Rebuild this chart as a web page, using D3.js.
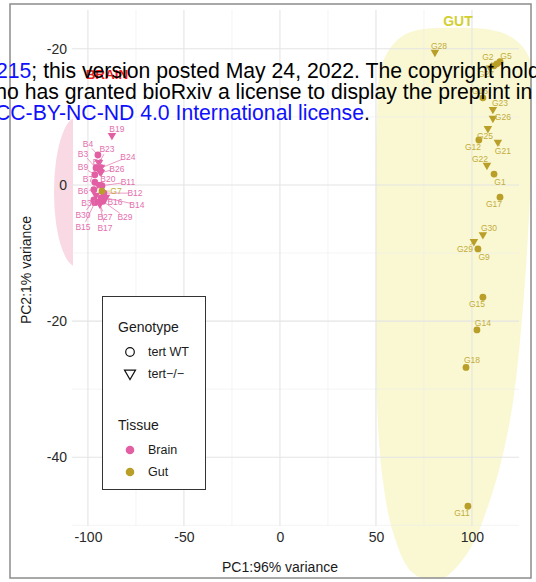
<!DOCTYPE html>
<html><head><meta charset="utf-8">
<script src="https://cdn.jsdelivr.net/npm/d3@7"></script>
<style>body{margin:0;background:#fff}svg{display:block;font-family:"Liberation Sans",Arial,sans-serif}</style>
</head><body><svg id="c" width="536" height="582"></svg>
<script>
// ---- data ----
const sampleIds   = ["B19","B4","B23","B3","B2","B24","B9","B26","B7","B20","B11","B6","B12","B31","B16","B14","B30","B27","B29","B15","B17",
                     "G7","G28","G2","G5","G3","G27","G16","G23","G26","G25","G12","G21","G22","G1","G17","G30","G29","G9","G15","G14","G18","G11"];
const tissue      = ["Brain","Brain","Brain","Brain","Brain","Brain","Brain","Brain","Brain","Brain","Brain","Brain","Brain","Brain","Brain","Brain","Brain","Brain","Brain","Brain","Brain",
                     "Gut","Gut","Gut","Gut","Gut","Gut","Gut","Gut","Gut","Gut","Gut","Gut","Gut","Gut","Gut","Gut","Gut","Gut","Gut","Gut","Gut","Gut"];
const genotype    = ["KO","WT","KO","WT","KO","KO","WT","KO","WT","KO","WT","WT","WT","KO","WT","KO","WT","KO","WT","WT","KO",
                     "WT","KO","WT","WT","WT","KO","WT","KO","KO","KO","WT","KO","KO","WT","WT","KO","KO","WT","WT","WT","WT","WT"];
const pc1         = [-87.5,-94.8,-94.3,-95.8,-93.8,-93.2,-96.4,-93.2,-96.4,-94.8,-92.7,-96.9,-91.7,-95.8,-93.2,-90.6,-96.9,-94.3,-92.2,-96.4,-93.8,
                     -92.7,80.7,111.5,114.6,113.0,109.4,105.7,110.9,110.9,108.3,103.6,113.5,107.8,111.5,114.6,105.7,101.0,103.1,105.7,102.6,96.9,97.9];
const pc2         = [7.2,4.4,3.2,2.5,1.9,2.5,1.5,1.8,0.4,0.0,-0.1,-0.7,-1.2,-1.6,-1.9,-1.9,-2.2,-2.5,-2.4,-2.6,-2.9,
                     -0.9,19.4,17.5,18.1,17.8,17.1,12.8,11.0,9.7,8.2,6.6,6.2,2.8,1.6,-1.8,-7.4,-8.4,-9.4,-16.5,-21.3,-26.8,-47.2];
// repelled label anchor, in data units
const labelPc1    = [-84.9,-100,-90.1,-102.6,-94.8,-79.2,-102.6,-84.9,-100,-89.6,-79.2,-102.6,-75.5,-99.5,-85.9,-74.5,-102.6,-91.1,-80.7,-102.6,-91.1,
                     -85.4,82.8,108.3,117.7,null,107.3,104.2,114.6,116.1,106.8,100.5,116.1,104.2,114.6,111.5,108.9,96.4,106.3,102.6,105.7,100.0,94.8];
const labelPc2    = [8.2,6.0,5.3,4.6,3.3,4.1,2.6,2.4,0.9,0.9,0.4,-0.9,-1.2,-2.6,-2.5,-2.9,-4.4,-4.7,-4.7,-6.2,-6.3,
                     -0.9,20.4,18.8,19.0,null,16.3,13.8,12.1,10.0,7.2,5.6,5.0,3.8,0.4,-2.8,-6.3,-9.4,-10.6,-17.5,-20.3,-25.7,-48.2];
// outline of the hand-drawn gut ellipse, in data units
const gutHullPc1  = [91.1,117.2,129.2,132.3,130.2,126.0,119.8,109.4,96.9,82.3,68.8,59.4,53.6,50.5,50.0,50.5,53.6,65.1];
const gutHullPc2  = [23.1,22.2,19.1,12.5,-2.2,-19.9,-34.6,-46.3,-54.4,-58.1,-56.9,-51.5,-43.4,-31.6,-9.6,9.6,18.1,22.1];
const xTicks      = [-100,-50,0,50,100];
const xTickLabels = ["-100","-50","0","50","100"];
const yTicks      = [20,0,-20,-40];
const yTickLabels = ["-20","0","-20","-40"];
const xMinor      = [-75,-25,25,75];
const yMinor      = [10,-10,-30,-50];
const tissueNames = ["Brain","Gut"];
const genoNames   = ["tert WT","tert\u2212/\u2212"];
const xDomain     = [-108.3,124.5];
const yDomain     = [25.7,-50.1];

// ---- styles ----
const tissueColor = {Brain:"#e25fa4", Gut:"#b99e28"};
const labelColor  = {Brain:"#e46fae", Gut:"#c4ac3c"};

const svg = d3.select("#c");
const P = {l:72, r:519, t:10, b:526};
const x = d3.scaleLinear().domain(xDomain).range([P.l,P.r]);
const y = d3.scaleLinear().domain(yDomain).range([P.t,P.b]);

const defs = svg.append("defs");
defs.append("clipPath").attr("id","leftOfPanel").append("rect").attr("x",0).attr("y",0).attr("width",P.l+1).attr("height",582);
defs.append("clipPath").attr("id","frame").append("rect").attr("x",10).attr("y",4).attr("width",521).attr("height",574);

// brain ellipse (visible only left of panel)
svg.append("ellipse").attr("cx",77).attr("cy",192).attr("rx",23).attr("ry",75)
  .attr("fill","#f8d9e4").attr("clip-path","url(#leftOfPanel)");

// gut ellipse
const hull = gutHullPc1.map((v,i)=>[x(v),y(gutHullPc2[i])]);
svg.append("g").attr("clip-path","url(#frame)")
  .append("path").attr("d",d3.line().curve(d3.curveCatmullRomClosed.alpha(0.5))(hull))
  .attr("fill","#f9f8d3");

// grid
const grid = svg.append("g");
grid.selectAll(".vmin").data(xMinor).join("line").attr("x1",d=>x(d)).attr("x2",d=>x(d)).attr("y1",P.t).attr("y2",P.b).attr("stroke","#ececec").attr("stroke-width",0.6);
grid.selectAll(".hmin").data(yMinor).join("line").attr("y1",d=>y(d)).attr("y2",d=>y(d)).attr("x1",P.l).attr("x2",P.r).attr("stroke","#ececec").attr("stroke-width",0.6);
grid.selectAll(".vmaj").data(xTicks).join("line").attr("x1",d=>x(d)).attr("x2",d=>x(d)).attr("y1",P.t).attr("y2",P.b).attr("stroke","#e4e4e4").attr("stroke-width",1.1);
grid.selectAll(".hmaj").data(yTicks).join("line").attr("y1",d=>y(d)).attr("y2",d=>y(d)).attr("x1",P.l).attr("x2",P.r).attr("stroke","#e4e4e4").attr("stroke-width",1.1);

// axes
const xa = svg.append("g").attr("transform",`translate(0,${P.b})`)
  .call(d3.axisBottom(x).tickValues(xTicks).tickSize(0).tickPadding(6).tickFormat((d,i)=>xTickLabels[i]));
const ya = svg.append("g").attr("transform",`translate(${P.l},0)`)
  .call(d3.axisLeft(y).tickValues(yTicks).tickSize(0).tickPadding(5).tickFormat((d,i)=>yTickLabels[i]));
[xa,ya].forEach(a=>{a.select(".domain").remove();a.selectAll("text").attr("fill","#2a2a2a").style("font-size","14px").style("font-family","Liberation Sans, Arial, sans-serif");});

svg.append("text").attr("x",280).attr("y",572).attr("text-anchor","middle").attr("fill","#1a1a1a").style("font-size","14px").text("PC1:96% variance");
svg.append("text").attr("transform","translate(31,270) rotate(-90)").attr("text-anchor","middle").attr("fill","#1a1a1a").style("font-size","14px").text("PC2:1% variance");

// data rows
const rows = sampleIds.map((id,i)=>({id,t:tissue[i],g:genotype[i],x:pc1[i],y:pc2[i],lx:labelPc1[i],ly:labelPc2[i]}));

// label segments
const segs = svg.append("g");
rows.filter(r=>r.lx!=null).forEach(r=>{
  const px=x(r.x),py=y(r.y),lx=x(r.lx),ly=y(r.ly);
  const dx=lx-px,dy=ly-py,dist=Math.hypot(dx,dy);
  if(dist>9){
    const k=(dist-6)/dist;
    segs.append("line").attr("x1",px).attr("y1",py).attr("x2",px+dx*k).attr("y2",py+dy*k)
      .attr("stroke",labelColor[r.t]).attr("stroke-width",0.7);
  }
});

// points
const tri = (cx,cy,s)=>`M${cx-s/2},${cy-s*0.36}L${cx+s/2},${cy-s*0.36}L${cx},${cy+s*0.5}Z`;
const pts = svg.append("g");
rows.forEach(r=>{
  if(r.g==="WT") pts.append("circle").attr("cx",x(r.x)).attr("cy",y(r.y)).attr("r",3.4).attr("fill",tissueColor[r.t]);
  else pts.append("path").attr("d",tri(x(r.x),y(r.y),8.5)).attr("fill",tissueColor[r.t]);
});

// labels
svg.append("g").selectAll("text").data(rows.filter(r=>r.lx!=null)).join("text")
  .attr("x",r=>x(r.lx)).attr("y",r=>y(r.ly)).attr("dy","0.35em").attr("text-anchor","middle")
  .attr("fill",r=>labelColor[r.t]).style("font-size","8.5px").text(r=>r.id);

// group annotations
svg.append("text").attr("x",458).attr("y",26).attr("text-anchor","middle").attr("fill","#d3cf33")
  .style("font-size","14px").style("font-weight","bold").text("GUT");
svg.append("text").attr("x",107).attr("y",79).attr("text-anchor","middle").attr("fill","#ee1c1c")
  .style("font-size","13.5px").style("font-weight","bold").text("BRAIN");

// legend
const lg = svg.append("g");
lg.append("rect").attr("x",102.5).attr("y",296.5).attr("width",103).attr("height",193).attr("fill","#fff").attr("stroke","#333").attr("stroke-width",1);
lg.append("text").attr("x",118).attr("y",332).attr("fill","#1a1a1a").style("font-size","14px").text("Genotype");
genoNames.forEach((n,i)=>{
  const cy=352+i*22;
  if(i===0) lg.append("circle").attr("cx",130).attr("cy",cy).attr("r",4.3).attr("fill","none").attr("stroke","#111").attr("stroke-width",1.2);
  else lg.append("path").attr("d",tri(130,cy,11)).attr("fill","none").attr("stroke","#111").attr("stroke-width",1.2);
  lg.append("text").attr("x",148).attr("y",cy).attr("dy","0.35em").attr("fill","#1a1a1a").style("font-size","12.5px").text(n);
});
lg.append("text").attr("x",118).attr("y",430).attr("fill","#1a1a1a").style("font-size","14px").text("Tissue");
tissueNames.forEach((n,i)=>{
  const cy=450+i*22;
  lg.append("circle").attr("cx",130).attr("cy",cy).attr("r",4.3).attr("fill",tissueColor[n]);
  lg.append("text").attr("x",148).attr("y",cy).attr("dy","0.35em").attr("fill","#1a1a1a").style("font-size","12.5px").text(n);
});

// outer frame
svg.append("rect").attr("x",10).attr("y",4).attr("width",521).attr("height",574).attr("fill","none").attr("stroke","#8c8c8c").attr("stroke-width",1.5);

// preprint watermark text
const wm = svg.append("g").style("font-size","21.2px").attr("fill","#000");
const l1 = wm.append("text").attr("x",-4).attr("y",78);
l1.append("tspan").attr("fill","#1010ff").text("215");
l1.append("tspan").text("; this version posted May 24, 2022. The copyright holder");
wm.append("text").attr("x",-20).attr("y",99).text("who has granted bioRxiv a license to display the preprint in perpetuity.");
const l3 = wm.append("text").attr("x",-5).attr("y",120);
l3.append("tspan").attr("fill","#1010ff").text("CC-BY-NC-ND 4.0 International license");
l3.append("tspan").text(".");
</script></body></html>
